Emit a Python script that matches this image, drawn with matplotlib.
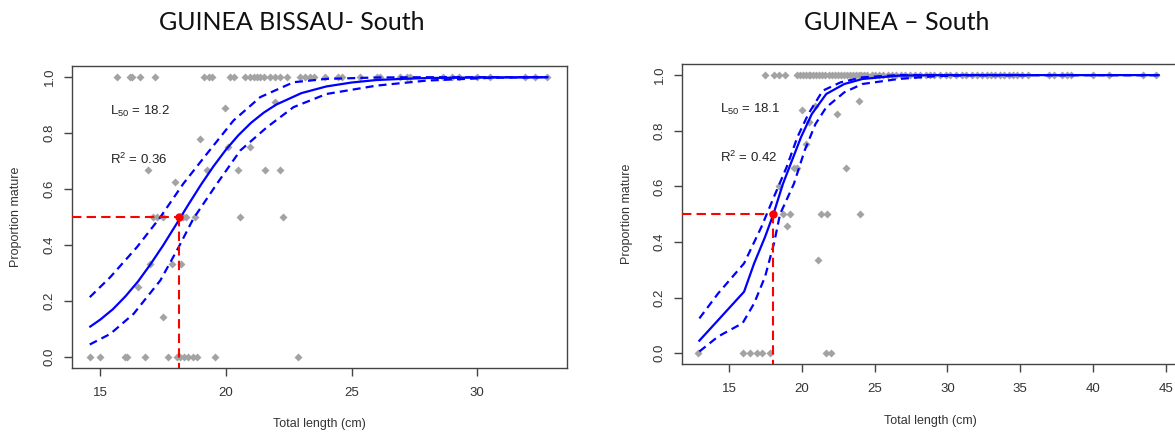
import numpy as np
import matplotlib
matplotlib.use("Agg")
import matplotlib.pyplot as plt

plt.rcParams["font.family"] = ["Liberation Sans", "DejaVu Sans"]
plt.rcParams["mathtext.fontset"] = "custom"
plt.rcParams["mathtext.rm"] = "Liberation Sans"
plt.rcParams["mathtext.it"] = "Liberation Sans:italic"

# ---- GUINEA BISSAU - South -------------------------------------------
gb_titles = "GUINEA BISSAU- South"
gb_l50 = 18.15
gb_l50_txt = "18.2"
gb_r2_txt = "0.36"

gb_pts_x = [15.66, 16.19, 16.26, 16.56, 17.16, 19.11, 19.31, 19.44, 20.17, 20.31,
            20.77, 20.97, 21.10, 21.23, 21.37, 21.50, 21.76, 21.96, 22.16, 22.43,
            22.96, 23.16, 23.36, 23.49, 23.95, 24.48, 24.62, 25.34, 26.00, 26.14,
            26.94, 27.20, 27.33, 28.66, 28.99, 29.26, 29.99, 30.52, 31.91, 32.31, 32.77,
            19.95, 21.96, 18.98, 20.08, 20.97,
            16.88, 19.24, 20.48, 21.56, 22.16, 17.98,
            17.09, 17.25, 17.50, 18.28, 18.40, 18.78, 20.57, 22.27,
            16.96, 17.85, 18.21, 16.49, 17.48,
            14.58, 15.00, 15.99, 16.06, 16.76, 17.68, 18.05, 18.18, 18.34, 18.51,
            18.67, 18.85, 19.55, 22.86]
gb_pts_y = [1.0] * 41 + \
           [0.89, 0.91, 0.78, 0.75, 0.75,
            0.667, 0.667, 0.667, 0.667, 0.667, 0.627,
            0.5, 0.5, 0.5, 0.5, 0.5, 0.5, 0.5, 0.5,
            0.333, 0.333, 0.333, 0.25, 0.143] + [0.0] * 14

gb_fit_x = [14.6, 15.0, 15.5, 16.0, 16.5, 17.0, 17.5, 18.0, 18.5, 19.0, 19.5, 20.0,
            20.5, 21.0, 21.5, 22.0, 23.0, 24.0, 25.0, 26.0, 27.0, 28.0, 30.0, 32.8]
gb_fit_y = [0.109, 0.134, 0.171, 0.217, 0.270, 0.332, 0.399, 0.471, 0.544, 0.615, 0.681, 0.741,
            0.793, 0.837, 0.873, 0.902, 0.943, 0.967, 0.981, 0.990, 0.994, 0.997, 0.999, 1.0]
gb_up_x = [14.58, 15.4, 16.46, 17.39, 18.3, 19.24, 20.3, 21.37, 22.69, 24.0, 26.0, 28.0, 32.8]
gb_up_y = [0.214, 0.286, 0.393, 0.5, 0.619, 0.726, 0.845, 0.929, 0.982, 0.994, 0.999, 1.0, 1.0]
gb_lo_x = [14.58, 15.4, 16.33, 17.39, 18.12, 18.7, 19.64, 20.57, 21.63, 22.69, 24.0, 26.0, 28.0, 30.6, 32.8]
gb_lo_y = [0.045, 0.083, 0.155, 0.274, 0.393, 0.494, 0.619, 0.738, 0.821, 0.893, 0.940, 0.970, 0.988, 0.998, 1.0]

# ---- GUINEA - South --------------------------------------------------
gn_l50 = 18.05
gn_l50_txt = "18.1"
gn_r2_txt = "0.42"

gn_pts_x = [17.48, 18.09, 18.47, 18.84,
            19.7, 19.9, 20.1, 20.3, 20.5, 20.6, 20.8, 21.0, 21.2, 21.4, 21.6, 21.9,
            22.1, 22.3, 22.5, 22.7, 22.9, 23.1, 23.3, 23.5, 23.7, 23.9, 24.1, 24.3,
            24.5, 24.8, 25.0, 25.3, 25.6, 25.9, 26.2, 26.5, 26.8, 27.1, 27.4, 27.8,
            28.1, 28.5, 28.8, 29.1, 29.5, 29.9, 30.2, 30.6, 31.0, 31.3, 31.7, 32.0,
            32.4, 32.7, 33.0, 33.3, 33.6, 33.9, 34.2, 34.5, 34.8, 35.1, 35.5,
            37.0, 37.3, 37.9, 38.2, 38.5, 40.0, 41.1, 43.4, 44.3,
            20.0, 20.94, 20.5, 20.32, 22.43, 23.9, 23.04, 19.46, 19.7, 18.42,
            18.71, 19.2, 21.31, 21.73, 24.03, 18.96, 21.14,
            12.9, 15.98, 16.44, 16.9, 17.24, 17.85, 21.68, 22.0]
gn_pts_y = [1.0] * 72 + \
           [0.875, 0.89, 0.833, 0.753, 0.86, 0.908, 0.667, 0.667, 0.667, 0.603,
            0.5, 0.5, 0.5, 0.5, 0.5, 0.456, 0.335] + [0.0] * 8

gn_fit_x = [12.97, 16.04, 16.73, 17.48, 18.04, 18.71, 19.33, 19.95, 20.69, 21.68, 22.92, 24.16, 26.63, 29.1, 44.5]
gn_fit_y = [0.045, 0.221, 0.323, 0.418, 0.498, 0.609, 0.693, 0.777, 0.860, 0.932, 0.968, 0.986, 0.998, 1.0, 1.0]
gn_up_x = [12.97, 14.26, 16.04, 17.23, 18.09, 18.96, 19.70, 20.45, 21.44, 22.67, 24.16, 26.63, 44.5]
gn_up_y = [0.125, 0.215, 0.323, 0.454, 0.562, 0.669, 0.777, 0.860, 0.944, 0.974, 0.992, 1.0, 1.0]
gn_lo_x = [12.97, 14.26, 15.94, 16.73, 17.48, 18.09, 18.51, 19.46, 20.2, 20.94, 21.68, 22.92, 24.16, 26.63, 29.1, 31.6, 44.5]
gn_lo_y = [0.006, 0.06, 0.108, 0.179, 0.275, 0.394, 0.5, 0.609, 0.729, 0.824, 0.884, 0.938, 0.968, 0.986, 0.996, 1.0, 1.0]


def panel(ax, px, py, fx, fy, ux, uy, lx, ly, l50, l50_txt, r2_txt, xlim, xticks, txt_x):
    ax.plot(px, py, ls="none", marker="D", ms=3.6, color="#a3a3a3", mec="none", zorder=2)
    ax.plot(fx, fy, color="#0000ff", lw=1.6, zorder=3)
    ax.plot(ux, uy, color="#0000ff", lw=1.6, ls=(0, (3.6, 2.3)), zorder=3)
    ax.plot(lx, ly, color="#0000ff", lw=1.6, ls=(0, (3.6, 2.3)), zorder=3)
    ax.plot([xlim[0], l50], [0.5, 0.5], color="#ff0000", lw=1.5, ls=(0, (4.5, 2.5)), zorder=4)
    ax.plot([l50, l50], [0.5, -0.04], color="#ff0000", lw=1.5, ls=(0, (4.5, 2.5)), zorder=4)
    ax.plot([l50], [0.5], "o", color="#ff0000", ms=5, zorder=5)

    ax.text(txt_x, 0.877, r"L$_{50}$ = " + l50_txt, fontsize=9.5, color="#222222", va="center")
    ax.text(txt_x, 0.705, r"R$^2$ = " + r2_txt, fontsize=9.5, color="#222222", va="center")

    ax.set_xlim(*xlim)
    ax.set_ylim(-0.04, 1.04)
    ax.set_xticks(xticks)
    ax.set_yticks([0.0, 0.2, 0.4, 0.6, 0.8, 1.0])
    ax.set_yticklabels(["0.0", "0.2", "0.4", "0.6", "0.8", "1.0"], rotation=90, va="center")
    ax.tick_params(axis="both", length=5.5, width=1, color="#444444", labelsize=9.5,
                   labelcolor="#333333")
    ax.tick_params(axis="x", pad=8)
    ax.tick_params(axis="y", pad=6)
    for s in ax.spines.values():
        s.set_color("#444444")
        s.set_linewidth(1)

    ax.set_xlabel("Total length (cm)", fontsize=9, color="#333333")
    ax.set_ylabel("Proportion mature", fontsize=9, color="#333333")
    ax.xaxis.set_label_coords(0.5, -0.185)
    ax.xaxis.label.set_va("center")
    ax.yaxis.set_label_coords(-0.112, 0.5)
    ax.yaxis.label.set_va("center")


fig = plt.figure(figsize=(11.75, 4.32), dpi=100)

ax1 = fig.add_axes([0.061, 0.1475, 0.4216, 0.6997])
panel(ax1, gb_pts_x, gb_pts_y, gb_fit_x, gb_fit_y, gb_up_x, gb_up_y, gb_lo_x, gb_lo_y,
      gb_l50, gb_l50_txt, gb_r2_txt, (13.86, 33.58), [15, 20, 25, 30], 15.4)

ax2 = fig.add_axes([0.5802, 0.1567, 0.4232, 0.6952])
panel(ax2, gn_pts_x, gn_pts_y, gn_fit_x, gn_fit_y, gn_up_x, gn_up_y, gn_lo_x, gn_lo_y,
      gn_l50, gn_l50_txt, gn_r2_txt, (11.76, 45.9), [15, 20, 25, 30, 35, 40, 45], 14.38)
ax2.yaxis.set_label_coords(-0.11, 0.5)
ax2.xaxis.set_label_coords(0.5, -0.19)

fig.text(292 / 1175, 1 - 23 / 432, gb_titles, fontsize=18, family=["Lato", "DejaVu Sans"],
         ha="center", va="center", color="#111111")
fig.text(897 / 1175, 1 - 23 / 432, "GUINEA \u2013 South", fontsize=18, family=["Lato", "DejaVu Sans"],
         ha="center", va="center", color="#111111")

fig.savefig("out.png", dpi=100)
